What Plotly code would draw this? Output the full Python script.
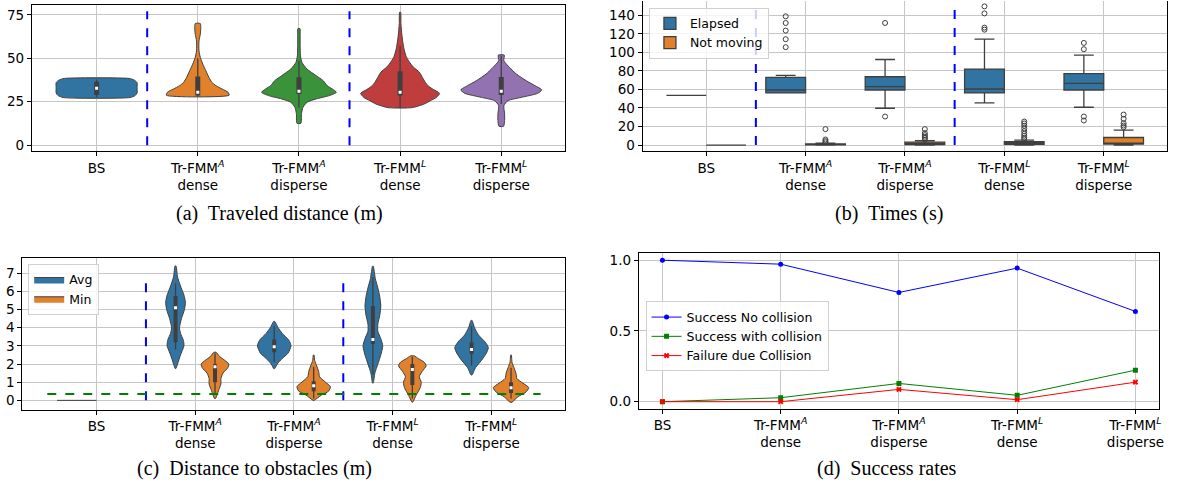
import plotly.graph_objects as go

# ---------------- data ----------------
CATS = ["BS",
        "Tr-FMM<sup><i>A</i></sup><br>dense",
        "Tr-FMM<sup><i>A</i></sup><br>disperse",
        "Tr-FMM<sup><i>L</i></sup><br>dense",
        "Tr-FMM<sup><i>L</i></sup><br>disperse"]
SEPARATORS = [0.5, 2.5]

# (a) traveled distance: violin profiles (value levels, half-widths) + inner box stats
DIST_COLORS = ["#3274a1", "#e1812c", "#3a923a", "#c03d3e", "#9372b2"]
DIST_LEVELS = [
    [27.4, 28.5, 30.0, 33.0, 36.0, 37.5, 38.4],
    [28.7, 30.4, 32.3, 34.2, 36.1, 39.0, 42.8, 46.6, 50.5, 54.3, 60.0, 63.8, 67.7, 70.0],
    [12.6, 18.0, 21.8, 24.7, 26.6, 28.5, 30.4, 32.3, 34.2, 37.1, 40.0, 43.8, 47.6, 51.4, 58.1, 63.8, 67.1],
    [21.6, 23.7, 25.6, 27.5, 29.8, 32.0, 34.0, 36.1, 39.0, 42.0, 45.0, 48.0, 51.0, 55.0, 60.0, 65.0, 70.0, 76.5],
    [10.9, 14.2, 18.0, 22.8, 25.6, 27.5, 29.8, 31.8, 34.2, 37.1, 40.9, 44.7, 48.6, 51.8],
]
DIST_WIDTHS = [
    [0.33, 0.38, 0.40, 0.40, 0.40, 0.37, 0.32],
    [0.31, 0.30, 0.24, 0.18, 0.14, 0.11, 0.08, 0.05, 0.025, 0.012, 0.012, 0.025, 0.03, 0.025],
    [0.02, 0.025, 0.04, 0.08, 0.17, 0.30, 0.37, 0.33, 0.28, 0.24, 0.17, 0.08, 0.03, 0.015, 0.012, 0.012, 0.01],
    [0.12, 0.24, 0.30, 0.36, 0.39, 0.33, 0.28, 0.25, 0.22, 0.19, 0.13, 0.09, 0.06, 0.04, 0.025, 0.015, 0.008, 0.005],
    [0.023, 0.033, 0.033, 0.026, 0.066, 0.197, 0.36, 0.40, 0.335, 0.246, 0.15, 0.082, 0.025, 0.03],
]
DIST_Q1 = [28.9, 28.5, 29.5, 28.5, 28.9]
DIST_MED = [32.7, 30.5, 31.0, 30.5, 31.0]
DIST_Q3 = [36.5, 39.5, 39.0, 42.5, 39.2]
DIST_LO = [27.5, 28.0, 21.5, 21.5, 23.7]
DIST_HI = [37.8, 50.0, 48.5, 57.0, 51.4]

# (b) times: box stats
EL_Q1 = [53.7, 56.2, 59.4, 56.2, 59.4]
EL_MED = [53.7, 59.4, 63.0, 60.5, 66.6]
EL_Q3 = [53.7, 73.0, 73.7, 82.0, 77.0]
EL_LO = [53.7, 56.2, 39.7, 45.5, 40.8]
EL_HI = [53.7, 75.2, 92.3, 114.2, 97.0]
EL_OUT = [[], [138.9, 131.7, 123.5, 114.2, 105.6], [131.7, 30.8], [149.6, 142.0, 126.7, 124.5],
          [110.2, 103.4, 30.8, 26.5]]
NM_Q1 = [0.0, 0.2, 0.4, 0.7, 1.1]
NM_MED = [0.0, 0.6, 1.5, 2.1, 2.1]
NM_Q3 = [0.0, 1.3, 3.2, 3.6, 8.2]
NM_LO = [0.0, 0.0, 0.0, 0.0, 0.0]
NM_HI = [0.0, 2.2, 4.7, 5.4, 16.1]
NM_OUT = [[], [17.2, 6.0, 4.3, 3.0], [17.2, 12.9, 10.7, 9.0, 7.5, 5.7],
          [25.4, 23.3, 20.8, 17.9, 15.0, 12.2, 10.0, 7.9, 6.4],
          [32.9, 28.3, 23.6, 21.1, 19.3]]

# (c) distance to obstacles: Avg / Min violins (index 0 = BS, all zeros)
AVG_LEVELS = [
    [],
    [1.75, 2.0, 2.5, 3.0, 3.3, 3.7, 4.0, 4.5, 5.0, 5.4, 5.8, 6.3, 6.8, 7.4],
    [1.75, 2.0, 2.3, 2.6, 3.0, 3.3, 3.7, 4.0, 4.35],
    [0.95, 1.5, 2.0, 2.5, 3.0, 3.4, 3.8, 4.2, 4.7, 5.2, 5.7, 6.2, 6.7, 7.4],
    [1.4, 1.8, 2.2, 2.6, 2.9, 3.2, 3.6, 4.0, 4.4],
]
AVG_WIDTHS = [
    [],
    [0.003, 0.02, 0.05, 0.085, 0.08, 0.05, 0.04, 0.06, 0.09, 0.10, 0.085, 0.05, 0.02, 0.005],
    [0.005, 0.03, 0.08, 0.14, 0.17, 0.15, 0.08, 0.04, 0.005],
    [0.003, 0.02, 0.05, 0.08, 0.10, 0.08, 0.05, 0.05, 0.07, 0.08, 0.07, 0.05, 0.025, 0.003],
    [0.005, 0.04, 0.10, 0.15, 0.17, 0.14, 0.07, 0.03, 0.005],
]
AVG_Q1 = [0, 3.2, 2.65, 3.1, 2.55]
AVG_MED = [0, 5.1, 2.95, 3.35, 2.8]
AVG_Q3 = [0, 5.75, 3.35, 5.2, 3.2]
AVG_LO = [0, 2.8, 2.1, 1.4, 1.9]
AVG_HI = [0, 6.45, 4.1, 6.8, 4.1]
MIN_LEVELS = [
    [],
    [0.1, 0.3, 0.6, 0.9, 1.2, 1.5, 1.8, 2.0, 2.2, 2.4, 2.65],
    [0.0, 0.3, 0.5, 0.75, 1.0, 1.3, 1.6, 1.9, 2.2, 2.5],
    [-0.1, 0.3, 0.7, 1.0, 1.3, 1.6, 1.9, 2.1, 2.3, 2.45],
    [-0.1, 0.2, 0.45, 0.7, 0.95, 1.2, 1.5, 1.8, 2.1, 2.5],
]
MIN_WIDTHS = [
    [],
    [0.005, 0.02, 0.04, 0.06, 0.06, 0.08, 0.13, 0.14, 0.10, 0.05, 0.01],
    [0.005, 0.08, 0.15, 0.17, 0.12, 0.06, 0.05, 0.03, 0.01, 0.003],
    [0.003, 0.04, 0.08, 0.09, 0.07, 0.10, 0.14, 0.12, 0.06, 0.02],
    [0.01, 0.07, 0.15, 0.18, 0.12, 0.06, 0.05, 0.03, 0.01, 0.003],
]
MIN_Q1 = [0, 1.0, 0.5, 0.85, 0.4]
MIN_MED = [0, 1.85, 0.8, 1.7, 0.7]
MIN_Q3 = [0, 2.0, 1.05, 2.0, 1.0]
MIN_LO = [0, 0.35, 0.1, 0.1, 0.1]
MIN_HI = [0, 2.6, 1.85, 2.4, 1.8]
SAFETY_DIST = 0.35

# (d) success rates
SUCCESS_NO_COLL = [1.0, 0.972, 0.772, 0.944, 0.638]
SUCCESS_WITH_COLL = [0.0, 0.028, 0.129, 0.045, 0.223]
FAILURE_COLL = [0.0, 0.0, 0.087, 0.014, 0.138]

# ---------------- styling ----------------
W, H = 1182, 489
BLUE, ORANGE = "#3274a1", "#e1812c"
EDGE = "#3f3f3f"
GRID = "#c6c6c6"
FONT = "DejaVu Sans"
TICK = 13.5


def px_x(p):
    return p / W


def px_y(p):
    return 1 - p / H


fig = go.Figure()


def violin(center, levels, widths, color, xa, ya, name=None, legend=None, show=False):
    xs = [center + w for w in widths] + [center - w for w in reversed(widths)]
    ys = list(levels) + list(reversed(levels))
    xs.append(xs[0])
    ys.append(ys[0])
    fig.add_trace(go.Scatter(x=xs, y=ys, mode="lines", fill="toself", fillcolor=color,
                             line=dict(color=EDGE, width=1, shape="spline", smoothing=0.6),
                             xaxis=xa, yaxis=ya, name=name, legend=legend,
                             showlegend=show, legendgroup=name, hoverinfo="skip"))


def inner(center, lo, q1, med, q3, hi, xa, ya, bw):
    fig.add_trace(go.Scatter(x=[center, center], y=[lo, hi], mode="lines",
                             line=dict(color=EDGE, width=1.3), xaxis=xa, yaxis=ya,
                             showlegend=False, hoverinfo="skip"))
    fig.add_trace(go.Scatter(x=[center, center], y=[q1, q3], mode="lines",
                             line=dict(color=EDGE, width=bw), xaxis=xa, yaxis=ya,
                             showlegend=False, hoverinfo="skip"))
    fig.add_trace(go.Scatter(x=[center], y=[med], mode="markers",
                             marker=dict(color="white", size=3, symbol="square"),
                             xaxis=xa, yaxis=ya, showlegend=False, hoverinfo="skip"))


# ---- (a)
for i in range(5):
    violin(i, DIST_LEVELS[i], DIST_WIDTHS[i], DIST_COLORS[i], "x", "y")
    inner(i, DIST_LO[i], DIST_Q1[i], DIST_MED[i], DIST_Q3[i], DIST_HI[i], "x", "y", 5)
for s in SEPARATORS:
    fig.add_trace(go.Scatter(x=[s, s], y=[0, 77], mode="lines",
                             line=dict(color="#0000ff", width=2, dash="dash"),
                             xaxis="x", yaxis="y", showlegend=False, hoverinfo="skip"))

# ---- (b)
for k, (nm, col, q1, med, q3, lo, hi, outs, off) in enumerate([
        ("Elapsed", BLUE, EL_Q1, EL_MED, EL_Q3, EL_LO, EL_HI, EL_OUT, -0.2),
        ("Not moving", ORANGE, NM_Q1, NM_MED, NM_Q3, NM_LO, NM_HI, NM_OUT, 0.2)]):
    fig.add_trace(go.Box(x=[i + off for i in range(5)], q1=q1, median=med, q3=q3,
                         lowerfence=lo, upperfence=hi, width=0.4, fillcolor=col,
                         line=dict(color=EDGE, width=1.3), boxpoints=False,
                         name=nm, xaxis="x2", yaxis="y2", legend="legend",
                         hoverinfo="skip"))
    ox, oy = [], []
    for i in range(5):
        for v in outs[i]:
            ox.append(i + off)
            oy.append(v)
    fig.add_trace(go.Scatter(x=ox, y=oy, mode="markers",
                             marker=dict(symbol="circle-open", size=5, color=EDGE,
                                         line=dict(width=1, color=EDGE)),
                             xaxis="x2", yaxis="y2", showlegend=False, hoverinfo="skip"))
for s in SEPARATORS:
    fig.add_trace(go.Scatter(x=[s, s], y=[0, 149], mode="lines",
                             line=dict(color="#0000ff", width=2, dash="dash"),
                             xaxis="x2", yaxis="y2", showlegend=False, hoverinfo="skip"))

# ---- (c)
fig.add_trace(go.Scatter(x=[-0.4, 0.0], y=[0, 0], mode="lines", line=dict(color=EDGE, width=1),
                         xaxis="x3", yaxis="y3", showlegend=False, hoverinfo="skip"))
for i in range(1, 5):
    violin(i - 0.2, AVG_LEVELS[i], AVG_WIDTHS[i], BLUE, "x3", "y3",
           name="Avg", legend="legend2", show=(i == 1))
    inner(i - 0.2, AVG_LO[i], AVG_Q1[i], AVG_MED[i], AVG_Q3[i], AVG_HI[i], "x3", "y3", 4)
    violin(i + 0.2, MIN_LEVELS[i], MIN_WIDTHS[i], ORANGE, "x3", "y3",
           name="Min", legend="legend2", show=(i == 1))
    inner(i + 0.2, MIN_LO[i], MIN_Q1[i], MIN_MED[i], MIN_Q3[i], MIN_HI[i], "x3", "y3", 4)
for s in SEPARATORS:
    fig.add_trace(go.Scatter(x=[s, s], y=[0, 6.45], mode="lines",
                             line=dict(color="#0000ff", width=2, dash="dash"),
                             xaxis="x3", yaxis="y3", showlegend=False, hoverinfo="skip"))
fig.add_trace(go.Scatter(x=[-0.5, 4.5], y=[SAFETY_DIST, SAFETY_DIST], mode="lines",
                         line=dict(color="#008000", width=2, dash="dash"),
                         xaxis="x3", yaxis="y3", showlegend=False, hoverinfo="skip"))

# ---- (d)
xs = list(range(5))
for nm, vals, col, sym in [("Success No collision", SUCCESS_NO_COLL, "#0000ff", "circle"),
                           ("Success with collision", SUCCESS_WITH_COLL, "#008000", "square"),
                           ("Failure due Collision", FAILURE_COLL, "#ff0000", "x")]:
    fig.add_trace(go.Scatter(x=xs, y=vals, mode="lines+markers", name=nm,
                             line=dict(color=col, width=1),
                             marker=dict(symbol=sym, size=5, color=col),
                             xaxis="x4", yaxis="y4", legend="legend3", hoverinfo="skip"))

# ---------------- axes ----------------
def xax(dom, rng, anchor, mirror=True):
    return dict(domain=dom, range=rng, anchor=anchor, tickvals=list(range(5)), ticktext=CATS,
                showgrid=True, gridcolor=GRID, gridwidth=1, zeroline=False,
                showline=True, linecolor="black", linewidth=1, mirror=mirror,
                ticks="outside", ticklen=4, tickcolor="black",
                tickfont=dict(family=FONT, size=TICK, color="black"))


def yax(dom, rng, anchor, tv, tt=None):
    d = dict(domain=dom, range=rng, anchor=anchor, tickvals=tv,
             showgrid=True, gridcolor=GRID, gridwidth=1, zeroline=False,
             showline=True, linecolor="black", linewidth=1, mirror=True,
             ticks="outside", ticklen=4, tickcolor="black",
             tickfont=dict(family=FONT, size=TICK, color="black"))
    if tt is not None:
        d["ticktext"] = tt
    return d


dom_a = ([px_x(32), px_x(567.7)], [px_y(151), px_y(4.3)])
dom_b = ([px_x(645.3), px_x(1172.3)], [px_y(151), 1.0])
dom_c = ([px_x(22.3), px_x(567.7)], [px_y(410.3), px_y(257.7)])
dom_d = ([px_x(641.5), px_x(1164)], [px_y(409.3), px_y(253.3)])

leg_common = dict(xanchor="left", yanchor="top", bgcolor="rgba(255,255,255,0.8)",
                  bordercolor="#d0d0d0", borderwidth=1,
                  font=dict(family=FONT, size=12.5, color="black"),
                  itemwidth=30, tracegroupgap=0)

fig.update_layout(
    width=W, height=H, margin=dict(l=0, r=0, t=0, b=0),
    paper_bgcolor="white", plot_bgcolor="white",
    font=dict(family=FONT, color="black"),
    xaxis=xax(dom_a[0], [-0.64, 4.633], "y"),
    yaxis=yax(dom_a[1], [-3.6, 80.5], "x", [0, 25, 50, 75]),
    xaxis2=xax(dom_b[0], [-0.64, 4.64], "y2", mirror=False),
    yaxis2=yax(dom_b[1], [-6.8, 155.4], "x2", [0, 20, 40, 60, 80, 100, 120, 140]),
    xaxis3=xax(dom_c[0], [-0.754, 4.75], "y3"),
    yaxis3=yax(dom_c[1], [-0.51, 7.86], "x3", [0, 1, 2, 3, 4, 5, 6, 7]),
    xaxis4=xax(dom_d[0], [-0.2, 4.2], "y4"),
    yaxis4=yax(dom_d[1], [-0.049, 1.049], "x4", [0, 0.5, 1.0], ["0.0", "0.5", "1.0"]),
    legend=dict(x=px_x(651.7), y=px_y(6.7), **leg_common),
    legend2=dict(x=px_x(28.3), y=px_y(264), **leg_common),
    legend3=dict(x=px_x(648.3), y=px_y(301.7), **leg_common),
    showlegend=True,
)

CAPTIONS = ["(a)  Traveled distance (m)", "(b)  Times (s)",
            "(c)  Distance to obstacles (m)", "(d)  Success rates"]
CAP_POS = [(281, 213), (893, 213), (256, 469), (891, 469)]
for txt, (cx, cy) in zip(CAPTIONS, CAP_POS):
    fig.add_annotation(text=txt, x=px_x(cx), y=px_y(cy), xref="paper", yref="paper",
                       showarrow=False, xanchor="center", yanchor="middle",
                       font=dict(family="Liberation Serif", size=20, color="black"))

fig.write_html("out.html")
